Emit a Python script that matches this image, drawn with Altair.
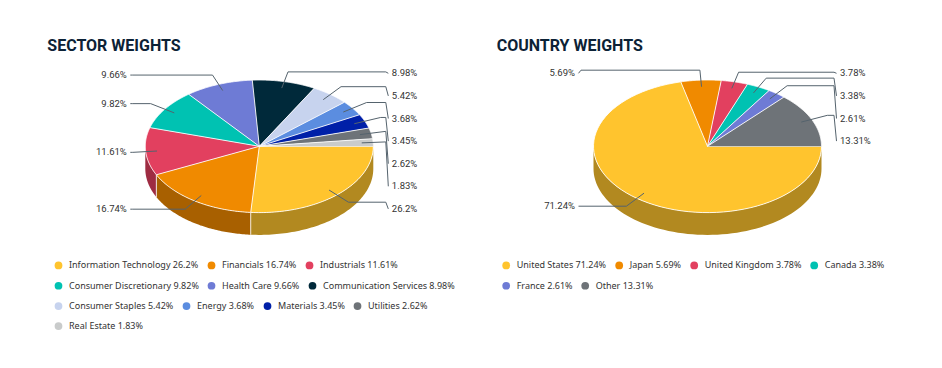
import altair as alt
import pandas as pd

# ---------------- data ----------------
sector_names = ["Information Technology", "Financials", "Industrials",
                "Consumer Discretionary", "Health Care", "Communication Services",
                "Consumer Staples", "Energy", "Materials", "Utilities", "Real Estate"]
sector_values = [26.2, 16.74, 11.61, 9.82, 9.66, 8.98, 5.42, 3.68, 3.45, 2.62, 1.83]
sector_colors = ["#FFC42E", "#F08A00", "#E2405F", "#00C2B2", "#6E7BD5", "#00293A",
                 "#C7D3EE", "#5B8DE0", "#0020A8", "#6E7378", "#C9CBCB"]

country_names = ["United States", "Japan", "United Kingdom", "Canada", "France", "Other"]
country_values = [71.24, 5.69, 3.78, 3.38, 2.61, 13.31]
country_colors = ["#FFC42E", "#F08A00", "#E2405F", "#00C2B2", "#6E7BD5", "#6E7378"]

sector_title = "SECTOR WEIGHTS"
country_title = "COUNTRY WEIGHTS"

# ---------------- layout / style ----------------
W, H = 920, 345
N = 72                      # arc resolution
RX, RY, DEPTH = 114.0, 66.3, 22.3
INNER, CROOK = 0.9, 1.15
SP, TOPOFF = 22.6, 73.0
LEFT_CX, RIGHT_CX, CY = 251.3, 699.5, 138.3
SECTOR_ROWS = [3, 3, 4, 1]
COUNTRY_ROWS = [4, 2]
ROWH = 20.3
LABEL_FONT = "Roboto"
LEGEND_FONT = "Noto Sans"
TITLE_FONT = "Roboto"
CONNECTOR = "#55636d"


def darken(hexc, f=0.7):
    h = hexc.lstrip("#")
    r, g, b = (int(h[i:i + 2], 16) for i in (0, 2, 4))
    return "#{:02x}{:02x}{:02x}".format(int(r * f), int(g * f), int(b * f))


XS = alt.Scale(domain=[0, W], nice=False, zero=False)
YS = alt.Scale(domain=[0, H], nice=False, zero=False, reverse=True)
X = alt.X("px:Q", scale=XS, axis=None)
Y = alt.Y("py:Q", scale=YS, axis=None)


def pie_df(names, values):
    return pd.DataFrame({
        "name": names,
        "value": values,
        "idx": list(range(len(names))),
        "leg": [f"{n} {v}%" for n, v in zip(names, values)],
        "k": [list(range(2 * N + 2)) for _ in names],
    })


def geom(df):
    return (alt.Chart(df)
            .transform_joinaggregate(total="sum(value)")
            .transform_window(cum="sum(value)", sort=[alt.SortField("idx")], frame=[None, 0])
            .transform_calculate(a0="2*PI*(datum.cum - datum.value)/datum.total")
            .transform_calculate(a1="2*PI*datum.cum/datum.total")
            .transform_calculate(am="(datum.a0 + datum.a1)/2"))


def walls(df, names, colors, cx, cy):
    dark = [darken(c) for c in colors]
    return (geom(df)
            .transform_filter("datum.a0 < PI")
            .transform_flatten(["k"])
            .transform_calculate(w1="min(datum.a1, PI)")
            .transform_calculate(
                t=f"datum.k <= {N} ? datum.a0 + (datum.w1 - datum.a0)*datum.k/{N}"
                  f" : datum.a0 + (datum.w1 - datum.a0)*({2 * N + 1} - datum.k)/{N}")
            .transform_calculate(px=f"{cx} + {RX}*cos(datum.t)")
            .transform_calculate(py=f"{cy} + {RY}*sin(datum.t) + (datum.k > {N} ? {DEPTH} : 0)")
            .mark_line(filled=True, strokeWidth=0)
            .encode(x=X, y=Y,
                    color=alt.Color("name:N", scale=alt.Scale(domain=names, range=dark), legend=None),
                    detail="name:N", order="k:Q"))


def wall_edges(df, cx, cy):
    return (geom(df)
            .transform_filter("datum.a0 > 0 && datum.a0 < PI")
            .transform_flatten(["k"])
            .transform_filter("datum.k <= 1")
            .transform_calculate(px=f"{cx} + {RX}*cos(datum.a0)")
            .transform_calculate(py=f"{cy} + {RY}*sin(datum.a0) + datum.k*{DEPTH}")
            .mark_line(color="white", strokeWidth=1, strokeOpacity=0.8)
            .encode(x=X, y=Y, detail="name:N", order="k:Q"))


def tops(df, names, colors, cx, cy):
    return (geom(df)
            .transform_flatten(["k"])
            .transform_filter(f"datum.k <= {N + 1}")
            .transform_calculate(t=f"datum.a0 + (datum.a1 - datum.a0)*max(datum.k - 1, 0)/{N}")
            .transform_calculate(px=f"datum.k == 0 ? {cx} : {cx} + {RX}*cos(datum.t)")
            .transform_calculate(py=f"datum.k == 0 ? {cy} : {cy} + {RY}*sin(datum.t)")
            .mark_line(filled=True, stroke="white", strokeWidth=1, strokeOpacity=0.85,
                       strokeJoin="round")
            .encode(x=X, y=Y,
                    color=alt.Color("name:N", scale=alt.Scale(domain=names, range=colors), legend=None),
                    detail="name:N", order="k:Q"))


def lab(df, cx, cy):
    return (geom(df)
            .transform_calculate(side="cos(datum.am) >= 0 ? 1 : -1")
            .transform_calculate(ny=f"{cy} + {RY * CROOK}*sin(datum.am)")
            .transform_window(i="row_number()", groupby=["side"], sort=[alt.SortField("ny")])
            .transform_calculate(adj=f"datum.ny - (datum.i - 1)*{SP}")
            .transform_window(rm="max(adj)", groupby=["side"], sort=[alt.SortField("ny")],
                              frame=[None, 0])
            .transform_calculate(ly=f"(datum.i - 1)*{SP} + max(datum.rm, {cy - TOPOFF})"))


def connectors(df, cx, cy):
    return (lab(df, cx, cy)
            .transform_flatten(["k"])
            .transform_filter("datum.k <= 3")
            .transform_calculate(
                px=f"datum.k == 0 ? {cx} + {RX * INNER}*cos(datum.am)"
                   f" : datum.k == 1 ? {cx} + datum.side*min({RX * CROOK}*abs(cos(datum.am)), {RX + 12.5})"
                   f" : datum.k == 2 ? {cx} + datum.side*{RX + 12.5} : {cx} + datum.side*{RX + 15}")
            .transform_calculate(
                py=f"datum.k == 0 ? {cy} + {RY * INNER}*sin(datum.am)"
                   f" : datum.k == 3 ? datum.ly : datum.ny")
            .mark_line(color=CONNECTOR, strokeWidth=1)
            .encode(x=X, y=Y, detail="name:N", order="k:Q"))


def labels(df, cx, cy, side):
    return (lab(df, cx, cy)
            .transform_filter(f"datum.side == {side}")
            .transform_calculate(px=f"{cx} + datum.side*{RX + 18.5}", txt="datum.value + '%'")
            .mark_text(align="left" if side > 0 else "right", baseline="middle",
                       font=LABEL_FONT, fontSize=9.5, color="#333333")
            .encode(x=X, y=alt.Y("ly:Q", scale=YS, axis=None), text="txt:N"))


def legend_rows(df, names, values, colors, rows, lx, ly0):
    labs = [f"{n} {v}%" for n, v in zip(names, values)]
    out = []
    start = 0
    for r, cnt in enumerate(rows):
        dom = labs[start:start + cnt]
        rng = colors[start:start + cnt]
        start += cnt
        out.append(
            alt.Chart(df).transform_filter("false").mark_circle()
            .encode(x=X, y=Y,
                    color=alt.Color("leg:N", scale=alt.Scale(domain=dom, range=rng),
                                    legend=alt.Legend(orient="none", legendX=lx, legendY=ly0 + r * ROWH,
                                                      direction="horizontal", title=None,
                                                      symbolType="circle", symbolSize=60,
                                                      symbolOpacity=1, symbolStrokeWidth=0,
                                                      labelFont=LEGEND_FONT, labelFontSize=9,
                                                      labelColor="#333333", labelOffset=6,
                                                      columnPadding=8, padding=0, labelLimit=0))))
    return out


def title(text, x, y):
    return (alt.Chart(pd.DataFrame({"t": [text]}))
            .mark_text(align="left", baseline="alphabetic", font=TITLE_FONT, fontSize=16,
                       fontWeight="bold", color="#0C2236")
            .encode(x=alt.value(x), y=alt.value(y), text="t:N"))


sdf = pie_df(sector_names, sector_values)
cdf = pie_df(country_names, country_values)

layers = [
    walls(sdf, sector_names, sector_colors, LEFT_CX, CY),
    walls(cdf, country_names, country_colors, RIGHT_CX, CY),
    wall_edges(sdf, LEFT_CX, CY),
    wall_edges(cdf, RIGHT_CX, CY),
    tops(sdf, sector_names, sector_colors, LEFT_CX, CY),
    tops(cdf, country_names, country_colors, RIGHT_CX, CY),
    connectors(sdf, LEFT_CX, CY),
    connectors(cdf, RIGHT_CX, CY),
    labels(sdf, LEFT_CX, CY, 1),
    labels(sdf, LEFT_CX, CY, -1),
    labels(cdf, RIGHT_CX, CY, 1),
    labels(cdf, RIGHT_CX, CY, -1),
    title(sector_title, 39.3, 42.7),
    title(country_title, 488.7, 42.7),
]
layers += legend_rows(sdf, sector_names, sector_values, sector_colors, SECTOR_ROWS, 46, 252.7)
layers += legend_rows(cdf, country_names, country_values, country_colors, COUNTRY_ROWS, 493.7, 252.7)

chart = (alt.layer(*layers)
         .resolve_scale(color="independent")
         .properties(width=W, height=H, padding=0, background="white")
         .configure_view(stroke=None))

chart.save("out.html", embed_options={"renderer": "svg", "actions": False})
